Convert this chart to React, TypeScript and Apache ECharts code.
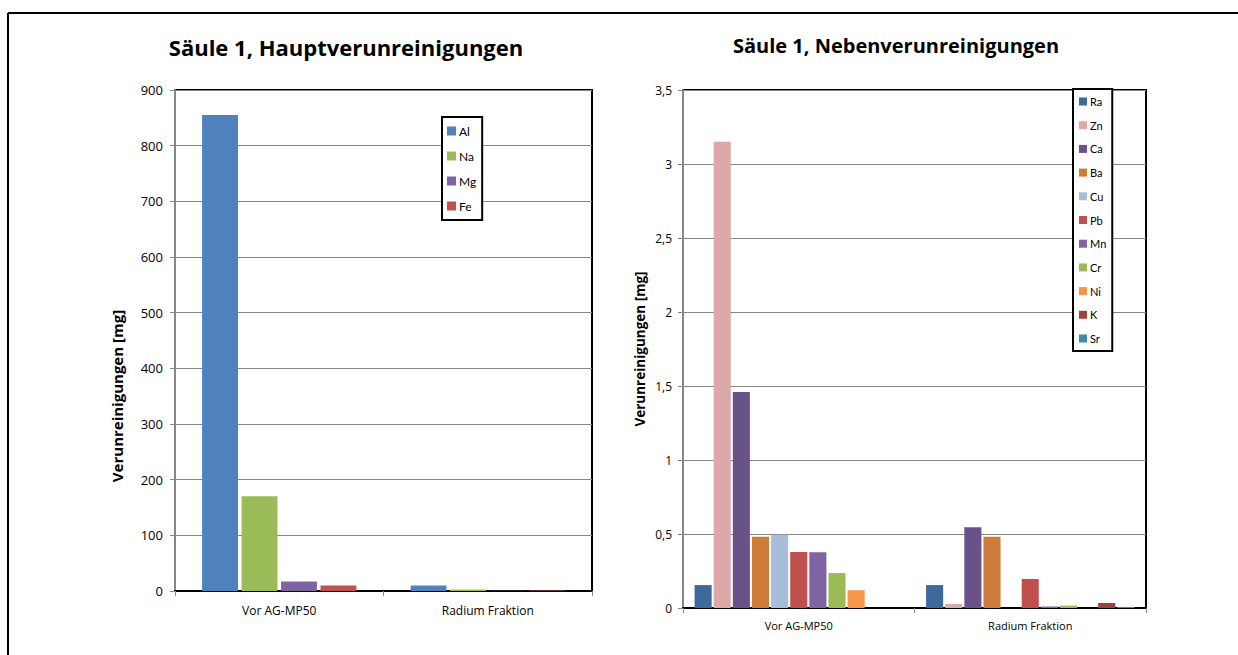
import React, { useEffect, useRef } from "react";
import * as echarts from "echarts";

const categories = ["Vor AG-MP50", "Radium Fraktion"];

// Hauptverunreinigungen [mg]
const mainNames = ["Al", "Na", "Mg", "Fe"];
const alValues = [855, 10];
const naValues = [170, 2.5];
const mgValues = [17, 0.3];
const feValues = [10, 1];
const mainColors = ["#4F81BD", "#9BBB59", "#8064A2", "#C0504D"];

// Nebenverunreinigungen [mg]
const minorNames = ["Ra", "Zn", "Ca", "Ba", "Cu", "Pb", "Mn", "Cr", "Ni", "K", "Sr"];
const raValues = [0.155, 0.155];
const znValues = [3.15, 0.027];
const caValues = [1.46, 0.545];
const baValues = [0.482, 0.482];
const cuValues = [0.495, 0];
const pbValues = [0.378, 0.196];
const mnValues = [0.376, 0.01];
const crValues = [0.236, 0.016];
const niValues = [0.12, 0];
const kValues = [0, 0.034];
const srValues = [0, 0.007];
const minorColors = [
  "#3E6A9B", "#DBA9A8", "#685288", "#CC7B38", "#A9BCD9", "#C0504D",
  "#8064A2", "#9BBB59", "#F79646", "#A0403E", "#3D8CA0",
];

const mainTicks = [0, 900, 100];
const minorTicks = [0, 3.5, 0.5];

const FONT = "'Open Sans', Lato, sans-serif";
const LFONT = "Lato, 'Open Sans', sans-serif";

export default function App() {
  const ref = useRef<HTMLDivElement>(null);
  useEffect(() => {
    if (!ref.current) return;
    const chart = echarts.init(ref.current, undefined, { renderer: "svg" });
    const mainData = [alValues, naValues, mgValues, feValues];
    const minorData = [
      raValues, znValues, caValues, baValues, cuValues, pbValues,
      mnValues, crValues, niValues, kValues, srValues,
    ];
    const option: any = {
      animation: false,
      textStyle: { fontFamily: FONT },
      graphic: [
        { type: "line", shape: { x1: 8, y1: 13, x2: 1238, y2: 13 }, style: { stroke: "#000", lineWidth: 2 } },
        { type: "line", shape: { x1: 8, y1: 13, x2: 8, y2: 655 }, style: { stroke: "#000", lineWidth: 2 } },
        {
          type: "text", x: 346, y: 47,
          style: { text: "Säule 1, Hauptverunreinigungen", font: `bold 22px ${FONT}`, fill: "#000", textAlign: "center", textVerticalAlign: "middle" },
        },
        {
          type: "text", x: 896, y: 45,
          style: { text: "Säule 1, Nebenverunreinigungen", font: `bold 20px ${FONT}`, fill: "#000", textAlign: "center", textVerticalAlign: "middle" },
        },
        {
          type: "text", x: 117, y: 396, rotation: Math.PI / 2,
          style: { text: "Verunreinigungen [mg]", font: `bold 15px ${FONT}`, fill: "#000", textAlign: "center", textVerticalAlign: "middle" },
        },
        {
          type: "text", x: 640, y: 349, rotation: Math.PI / 2,
          style: { text: "Verunreinigungen [mg]", font: `bold 13.5px ${FONT}`, fill: "#000", textAlign: "center", textVerticalAlign: "middle" },
        },
      ],
      grid: [
        { left: 175, top: 90, width: 417, height: 501, show: true, borderColor: "#000", borderWidth: 2, backgroundColor: "#fff" },
        { left: 683, top: 90, width: 463, height: 518, show: true, borderColor: "#000", borderWidth: 2, backgroundColor: "#fff" },
      ],
      legend: [
        {
          data: mainNames, orient: "vertical", left: 442, top: 117,
          itemWidth: 9, itemHeight: 9, itemGap: 11, padding: [7, 6, 7, 5],
          borderColor: "#000", borderWidth: 2, icon: "rect", backgroundColor: "#fff",
          textStyle: { fontSize: 12, lineHeight: 14, color: "#000", fontFamily: LFONT, padding: [0, 0, 0, -2] },
        },
        {
          data: minorNames, orient: "vertical", left: 1073, top: 89,
          itemWidth: 8, itemHeight: 8, itemGap: 10.7, padding: [6, 6, 6, 6],
          borderColor: "#000", borderWidth: 2, icon: "rect", backgroundColor: "#fff",
          textStyle: { fontSize: 11, lineHeight: 13, color: "#000", fontFamily: LFONT, padding: [0, 0, 0, -2] },
        },
      ],
      xAxis: [0, 1].map((i) => ({
        type: "category", gridIndex: i, data: categories,
        axisLine: { lineStyle: { color: "#000", width: 2 } },
        axisTick: { show: true, length: 5, lineStyle: { color: "#868686" } },
        axisLabel: { color: "#000", fontFamily: FONT, fontSize: i === 0 ? 12 : 11, margin: i === 0 ? 13 : 12 },
      })),
      yAxis: [
        {
          type: "value", gridIndex: 0, min: mainTicks[0], max: mainTicks[1], interval: mainTicks[2],
          axisLine: { show: true, lineStyle: { color: "#868686", width: 2 } },
          axisTick: { show: true, length: 5, lineStyle: { color: "#868686" } },
          splitLine: { lineStyle: { color: "#868686", width: 1 } },
          axisLabel: { color: "#000", fontFamily: FONT, fontSize: 13, margin: 12 },
        },
        {
          type: "value", gridIndex: 1, min: minorTicks[0], max: minorTicks[1], interval: minorTicks[2],
          axisLine: { show: true, lineStyle: { color: "#868686", width: 2 } },
          axisTick: { show: true, length: 5, lineStyle: { color: "#868686" } },
          splitLine: { lineStyle: { color: "#868686", width: 1 } },
          axisLabel: {
            color: "#000", fontFamily: FONT, fontSize: 12, margin: 11,
            formatter: (v: number) => String(v).replace(".", ","),
          },
        },
      ],
      series: [
        ...mainNames.map((n, i) => ({
          name: n, type: "bar", xAxisIndex: 0, yAxisIndex: 0, data: mainData[i],
          itemStyle: { color: mainColors[i] },
          barGap: "10%", barCategoryGap: "26%",
        })),
        ...minorNames.map((n, i) => ({
          name: n, type: "bar", xAxisIndex: 1, yAxisIndex: 1, data: minorData[i],
          itemStyle: { color: minorColors[i] },
          barGap: "12%", barCategoryGap: "10%",
        })),
      ],
    };
    chart.setOption(option);
    return () => chart.dispose();
  }, []);
  return (
    <div
      ref={ref}
      style={{ position: "fixed", left: 0, top: 0, width: 1238, height: 655, background: "#fff" }}
    />
  );
}
